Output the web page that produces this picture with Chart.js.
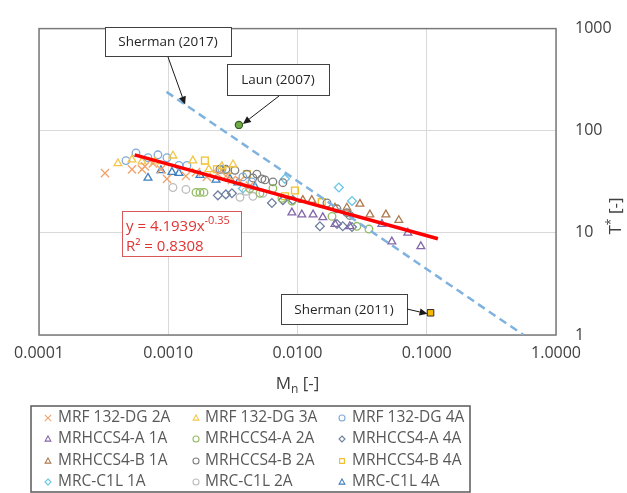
<!DOCTYPE html>
<html><head><meta charset="utf-8">
<script src="https://cdn.jsdelivr.net/npm/chart.js@4.4.1/dist/chart.umd.min.js"></script>
<style>html,body{margin:0;padding:0;background:#fff;overflow:hidden}canvas{display:block}</style>
</head><body>
<canvas id="c" width="627" height="493"></canvas>
<script>
// ---------- data (Mn, T*) ----------
const seriesNames = ['MRF 132-DG 2A','MRF 132-DG 3A','MRF 132-DG 4A',
  'MRHCCS4-A 1A','MRHCCS4-A 2A','MRHCCS4-A 4A',
  'MRHCCS4-B 1A','MRHCCS4-B 2A','MRHCCS4-B 4A',
  'MRC-C1L 1A','MRC-C1L 2A','MRC-C1L 4A'];

const MRF_132DG_2A = [[3.24e-4,38.5],[5.24e-4,41.9],[6.26e-4,41.9],[6.60e-4,44.8],[7.61e-4,47.8],[8.78e-4,41.9],[9.77e-4,33.8],[1.37e-3,36.0],[1.64e-3,39.3],[1.99e-3,35.3],[2.42e-3,37.6],[2.79e-3,36.0],[3.11e-3,33.0],[3.59e-3,32.3],[4.28e-3,29.0]];
const MRF_132DG_3A = [[4.08e-4,47.8],[5.24e-4,52.1],[6.26e-4,49.9],[7.89e-4,49.9],[1.087e-3,56.9],[1.55e-3,51.0],[2.06e-3,41.9],[2.60e-3,44.8],[3.17e-3,46.7]];
const MRF_132DG_4A = [[4.71e-4,51.0],[5.63e-4,60.7],[6.97e-4,54.4],[8.32e-4,58.1],[9.77e-4,54.4],[1.21e-3,45.7],[1.395e-3,45.7],[2.60e-3,41.9],[3.78e-3,35.3],[4.44e-3,31.6]];
const MRHCCS4A_1A = [[9.05e-3,15.8],[1.08e-2,15.1],[1.32e-2,15.1],[1.57e-2,14.2],[1.95e-2,12.2],[2.54e-2,11.6],[4.50e-2,12.2],[7.14e-2,10.0],[5.37e-2,8.22],[9.00e-2,7.38]];
const MRHCCS4A_2A = [[1.64e-3,24.9],[1.76e-3,24.9],[1.89e-3,24.9],[4.28e-3,27.2],[5.12e-3,24.4],[6.45e-3,27.2],[7.58e-3,21.8],[9.05e-3,20.5],[1.85e-2,14.5],[2.88e-2,11.6],[3.57e-2,10.9]];
const MRHCCS4A_4A = [[2.42e-3,23.3],[2.79e-3,23.8],[3.11e-3,24.4],[6.34e-3,19.6],[7.71e-3,20.9],[9.21e-3,20.9],[1.49e-2,11.6],[2.02e-2,12.2],[2.24e-2,11.6],[2.64e-2,11.4]];
const MRHCCS4B_1A = [[1.10e-2,20.9],[1.29e-2,20.9],[1.95e-2,17.6],[2.41e-2,17.6],[3.04e-2,19.2],[3.63e-2,15.1],[4.83e-2,15.1],[6.08e-2,13.3]];
const MRHCCS4B_2A = [[2.51e-3,41.9],[2.79e-3,41.9],[3.28e-3,41.0],[4.06e-3,37.6],[4.52e-3,34.5],[4.85e-3,37.6],[5.30e-3,33.8],[5.60e-3,33.0],[6.45e-3,31.6],[7.71e-3,31.0],[1.69e-2,19.6],[2.02e-2,17.2],[2.41e-2,15.8],[2.54e-2,14.8]];
const MRHCCS4B_4A = [[1.92e-3,51.0],[2.38e-3,41.9],[2.90e-3,41.0],[4.06e-3,37.6],[7.99e-3,22.8],[9.55e-3,26.0],[1.54e-2,20.0]];
const MRC_C1L_1A = [[3.78e-3,27.2],[7.99e-3,33.8],[2.09e-2,27.8],[2.64e-2,20.5]];
const MRC_C1L_2A = [[1.087e-3,27.8],[1.37e-3,26.6],[3.59e-3,22.3],[4.0e-3,25.5],[4.52e-3,22.8],[5.40e-3,24.4]];
const MRC_C1L_4A = [[6.97e-4,34.5],[8.78e-4,41.0],[1.068e-3,39.3],[1.21e-3,38.5],[1.76e-3,36.8],[2.34e-3,33.0],[3.00e-3,33.8],[3.46e-3,31.0],[4.68e-3,28.4]];

const laun2007 = [[0.00352,114]];
const sherman2011 = [[0.107,1.65]];
const sherman2017 = [[0.00097,240],[0.56,1]];
const powerFit = [[0.00055,58],[0.122,8.76]];

const xTickValues = [0.0001,0.001,0.01,0.1,1];
const xTickLabels = ['0.0001','0.0010','0.0100','0.1000','1.0000'];
const yTickValues = [1,10,100,1000];
const yTickLabels = ['1','10','100','1000'];

// ---------- styles ----------
const seriesData = [MRF_132DG_2A,MRF_132DG_3A,MRF_132DG_4A,MRHCCS4A_1A,MRHCCS4A_2A,MRHCCS4A_4A,MRHCCS4B_1A,MRHCCS4B_2A,MRHCCS4B_4A,MRC_C1L_1A,MRC_C1L_2A,MRC_C1L_4A];
const seriesColors = ['#f2a36b','#f5c645','#82aad8','#8466aa','#93bb62','#6d7f9e','#ad7a50','#7f7f7f','#f0c02c','#66c6e6','#bdbdbd','#3d7fbf'];
const seriesStyles = ['crossRot','triangle','circle','triangle','circle','rectRot','triangle','circle','rect','rectRot','circle','triangle'];
const styleRadius = {crossRot:5.8,triangle:4.5,circle:3.8,rectRot:4.4,rect:4.8};

const FONT = "'Open Sans', 'Liberation Sans', sans-serif";

const datasets = [];
datasets.push({label:'fit',data:powerFit.map(p=>({x:p[0],y:p[1]})),showLine:true,borderColor:'#ff0000',borderWidth:3.5,pointRadius:0,order:0});
datasets.push({label:'Sherman 2017',data:sherman2017.map(p=>({x:p[0],y:p[1]})),showLine:true,borderColor:'#7fb2de',borderWidth:2.5,borderDash:[8,5],pointRadius:0,order:1});
datasets.push({label:'Laun 2007',data:laun2007.map(p=>({x:p[0],y:p[1]})),pointStyle:'circle',pointRadius:3.6,backgroundColor:'#70ad47',borderColor:'#385d22',borderWidth:1.2,order:1});
datasets.push({label:'Sherman 2011',data:sherman2011.map(p=>({x:p[0],y:p[1]})),pointStyle:'rect',pointRadius:4.6,backgroundColor:'#f5b800',borderColor:'#2b2b2b',borderWidth:1,order:1});
seriesData.forEach((d,i)=>{
  datasets.push({label:seriesNames[i],data:d.map(p=>({x:p[0],y:p[1]})),pointStyle:seriesStyles[i],
    pointRadius:styleRadius[seriesStyles[i]],backgroundColor:'rgba(0,0,0,0)',borderColor:seriesColors[i],borderWidth:1.3,order:2});
});

function drawMarker(ctx, style, x, y, r, color){
  ctx.save(); ctx.strokeStyle=color; ctx.lineWidth=1.1; ctx.beginPath();
  if(style==='circle'){ctx.arc(x,y,r,0,Math.PI*2);}
  else if(style==='triangle'){ctx.moveTo(x,y-r);ctx.lineTo(x+r*0.95,y+r*0.7);ctx.lineTo(x-r*0.95,y+r*0.7);ctx.closePath();}
  else if(style==='rectRot'){ctx.moveTo(x,y-r);ctx.lineTo(x+r,y);ctx.lineTo(x,y+r);ctx.lineTo(x-r,y);ctx.closePath();}
  else if(style==='rect'){ctx.rect(x-r*0.8,y-r*0.8,r*1.6,r*1.6);}
  else if(style==='crossRot'){ctx.moveTo(x-r*0.8,y-r*0.8);ctx.lineTo(x+r*0.8,y+r*0.8);ctx.moveTo(x+r*0.8,y-r*0.8);ctx.lineTo(x-r*0.8,y+r*0.8);}
  ctx.stroke(); ctx.restore();
}

function richText(ctx, parts, x, y, align){
  let w=0;
  parts.forEach(p=>{ctx.font=p.size+'px '+FONT; p.w=ctx.measureText(p.t).width; w+=p.w;});
  let cx = align==='center'? x-w/2 : x;
  ctx.textBaseline='alphabetic'; ctx.textAlign='left';
  parts.forEach(p=>{ctx.font=p.size+'px '+FONT; ctx.fillText(p.t,cx,y+(p.dy||0)); cx+=p.w;});
}

function arrow(ctx,x1,y1,x2,y2){
  ctx.save(); ctx.strokeStyle='#1a1a1a'; ctx.fillStyle='#1a1a1a'; ctx.lineWidth=1;
  const a=Math.atan2(y2-y1,x2-x1), L=8, W=3.6;
  const bx=x2-L*Math.cos(a), by=y2-L*Math.sin(a);
  ctx.beginPath(); ctx.moveTo(x1,y1); ctx.lineTo(bx,by); ctx.stroke();
  ctx.beginPath(); ctx.moveTo(x2,y2);
  ctx.lineTo(bx+W*Math.sin(a),by-W*Math.cos(a)); ctx.lineTo(bx-W*Math.sin(a),by+W*Math.cos(a)); ctx.closePath(); ctx.fill();
  ctx.restore();
}

function labelBox(ctx,l,t,r,b,text){
  ctx.save(); ctx.fillStyle='#fff'; ctx.fillRect(l,t,r-l,b-t);
  ctx.strokeStyle='#404040'; ctx.lineWidth=1; ctx.strokeRect(l+0.5,t+0.5,r-l,b-t);
  ctx.fillStyle='#262626'; ctx.font='13.5px '+FONT; ctx.textAlign='center'; ctx.textBaseline='middle';
  ctx.fillText(text,(l+r)/2,(t+b)/2+1); ctx.restore();
}

const framePlugin = {
  id:'frame',
  beforeDatasetsDraw(chart){
    const {ctx, chartArea:a} = chart;
    ctx.save(); ctx.strokeStyle='#7a7a7a'; ctx.lineWidth=1.5;
    ctx.strokeRect(a.left,a.top,a.right-a.left,a.bottom-a.top); ctx.restore();
  },
  afterDraw(chart){
    const {ctx, chartArea:a, scales:{x,y}} = chart;
    ctx.save();
    ctx.fillStyle='#404040';
    richText(ctx,[{t:'M',size:17},{t:'n',size:12,dy:4},{t:' [-]',size:17}],(a.left+a.right)/2,389,'center');
    ctx.save(); ctx.translate(621,216); ctx.rotate(-Math.PI/2);
    richText(ctx,[{t:'T',size:17},{t:'*',size:12,dy:-6},{t:' [-]',size:17}],0,0,'center');
    ctx.restore();

    // equation box
    ctx.fillStyle='#fff'; ctx.fillRect(122,211,119,45);
    ctx.strokeStyle='#d9595a'; ctx.lineWidth=1; ctx.strokeRect(122.5,211.5,119,45);
    ctx.fillStyle='#e03333';
    richText(ctx,[{t:'y = 4.1939x',size:15},{t:'-0.35',size:11,dy:-7}],126,231,'left');
    richText(ctx,[{t:'R² = 0.8308',size:15}],126,251,'left');

    // annotations
    const lx=x.getPixelForValue(laun2007[0][0]), ly=y.getPixelForValue(laun2007[0][1]);
    const sx=x.getPixelForValue(sherman2011[0][0]), sy=y.getPixelForValue(sherman2011[0][1]);
    const px=x.getPixelForValue(0.00135), py=y.getPixelForValue(sherman2017[0][1]*Math.pow(0.00135/sherman2017[0][0],-0.86));
    labelBox(ctx,105,27,231,56,'Sherman (2017)');
    arrow(ctx,168,57,px,py);
    labelBox(ctx,227,64,329,95,'Laun (2007)');
    arrow(ctx,279,96,lx+4,ly-1);
    labelBox(ctx,281,294,407,324,'Sherman (2011)');
    arrow(ctx,407,309,sx-3,sy+1);

    // legend
    ctx.strokeStyle='#5a5a5a'; ctx.lineWidth=1.5; ctx.strokeRect(31,406,439,86);
    const colM=[48,196,342], colT=[58,205,352], rowY=[417,438,460,481];
    ctx.font='15.5px '+FONT; ctx.textBaseline='middle'; ctx.textAlign='left'; ctx.fillStyle='#595959';
    seriesNames.forEach((n,i)=>{
      const r=Math.floor(i/3), c=i%3;
      const st=seriesStyles[i];
      drawMarker(ctx,st,colM[c],rowY[r]+1,st==='crossRot'?4:3,seriesColors[i]);
      ctx.fillText(n,colT[c],rowY[r]+1);
    });
    ctx.restore();
  }
};

new Chart(document.getElementById('c'),{
  type:'scatter',
  data:{datasets},
  options:{
    responsive:false, animation:false, devicePixelRatio:1,
    layout:{padding:{left:39,top:17,right:0,bottom:98}},
    plugins:{legend:{display:false},tooltip:{enabled:false}},
    elements:{line:{tension:0}},
    scales:{
      x:{type:'logarithmic',min:0.0001,max:1,position:'bottom',
        afterBuildTicks:s=>{s.ticks=xTickValues.map(v=>({value:v}));},
        afterFit:s=>{s.height=60;},
        ticks:{autoSkip:false,maxRotation:0,padding:9,color:'#404040',font:{family:FONT,size:16},
          callback:(v,i)=>xTickLabels[i]},
        grid:{color:'#d9d9d9',lineWidth:1,drawTicks:false},
        border:{display:false}},
      y:{type:'logarithmic',min:1,max:1000,position:'right',
        afterBuildTicks:s=>{s.ticks=yTickValues.map(v=>({value:v}));},
        afterFit:s=>{s.width=71;},
        ticks:{autoSkip:false,padding:19,color:'#404040',font:{family:FONT,size:16},
          callback:(v,i)=>yTickLabels[i]},
        grid:{color:'#d9d9d9',lineWidth:1,drawTicks:false},
        border:{display:false}}
    }
  },
  plugins:[framePlugin]
});
</script></body></html>
